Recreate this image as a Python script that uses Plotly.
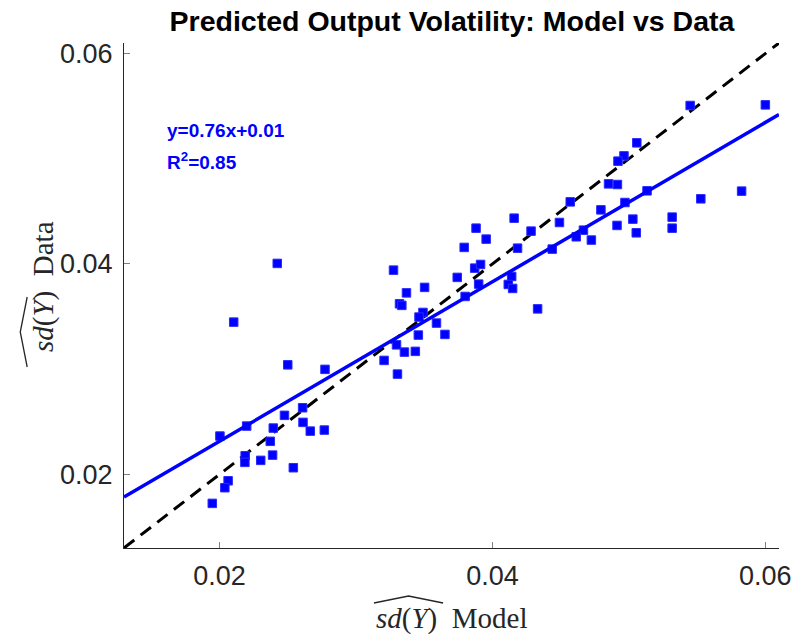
import plotly.graph_objects as go

# Model-predicted volatility (x) and data volatility (y)
model_sd = [
    0.02104, 0.02500, 0.02773, 0.02609, 0.02476, 0.02199, 0.02394, 0.02003, 0.02612, 0.02665,
    0.02768, 0.02372, 0.02188, 0.02186, 0.02302, 0.02389, 0.02541, 0.02063, 0.02039, 0.01947,
    0.02423,
    0.04159, 0.03880, 0.03954, 0.03793, 0.04184, 0.04283, 0.04438, 0.03275, 0.03870, 0.03913,
    0.03742, 0.03503, 0.03370, 0.03899, 0.04141, 0.04116, 0.04148, 0.03800, 0.03319, 0.03336,
    0.04331, 0.03491, 0.03462, 0.03590, 0.03457, 0.03652, 0.03297, 0.03355, 0.03435, 0.03206,
    0.03304,
    0.05449, 0.06000, 0.05058, 0.04964, 0.04920, 0.04851, 0.04916, 0.05133, 0.05826, 0.05527,
    0.04570, 0.04971, 0.04795, 0.04491, 0.05029, 0.05317, 0.05317, 0.04913, 0.05054, 0.04667,
    0.04614, 0.04725,
]
data_sd = [
    0.03447, 0.03041, 0.02998, 0.02633, 0.02561, 0.02459, 0.02440, 0.02364, 0.02494, 0.02411,
    0.02421, 0.02314, 0.02177, 0.02114, 0.02133, 0.02183, 0.02063, 0.01939, 0.01873, 0.01724,
    0.04005,
    0.04435, 0.04340, 0.04236, 0.04157, 0.04150, 0.04312, 0.04141, 0.03941, 0.03960, 0.03995,
    0.03872, 0.03777, 0.03725, 0.03808, 0.03881, 0.03805, 0.03767, 0.03691, 0.03621, 0.03606,
    0.03573, 0.03539, 0.03495, 0.03438, 0.03324, 0.03330, 0.03231, 0.03162, 0.03169, 0.03083,
    0.02953,
    0.05506, 0.05512, 0.05151, 0.05027, 0.04977, 0.04761, 0.04755, 0.04695, 0.04692, 0.04619,
    0.04590, 0.04584, 0.04514, 0.04394, 0.04426, 0.04445, 0.04340, 0.04366, 0.04296, 0.04321,
    0.04258, 0.04227,
]

fit_slope = 0.7575
fit_intercept = 0.0080
axis_range = [0.013, 0.061]
tick_vals = [0.02, 0.04, 0.06]
tick_text = ["0.02", "0.04", "0.06"]

fit_x = axis_range
fit_y = [fit_slope * v + fit_intercept for v in fit_x]

# plot-area geometry in pixels
W, H = 803, 639
L, R, T, B = 124, 16, 43, 91
PW, PH = W - L - R, H - T - B


def px(x):
    return (x - L) / PW


def py(y):
    return (H - B - y) / PH


fig = go.Figure()
fig.add_trace(go.Scatter(
    x=axis_range, y=axis_range, mode="lines",
    line=dict(color="black", width=3, dash="13px,8px"), hoverinfo="skip",
))
fig.add_trace(go.Scatter(
    x=model_sd, y=data_sd, mode="markers",
    marker=dict(symbol="square", size=8.5, color="#0000ff",
                line=dict(color="#2a2aff", width=1)),
))
fig.add_trace(go.Scatter(
    x=fit_x, y=fit_y, mode="lines",
    line=dict(color="#0000ff", width=3.5), hoverinfo="skip",
))

axis_common = dict(
    range=axis_range, tickvals=tick_vals, ticktext=tick_text,
    ticks="inside", ticklen=6, tickcolor="#808080", tickwidth=1,
    showline=True, linecolor="#262626", linewidth=1, showgrid=False,
    zeroline=False, tickfont=dict(family="Liberation Sans", size=27, color="#262626"),
)

fig.update_layout(
    width=W, height=H,
    margin=dict(l=L, r=R, t=T, b=B),
    plot_bgcolor="white", paper_bgcolor="white",
    showlegend=False,
    xaxis=dict(**axis_common, ticklabelstandoff=4),
    yaxis=dict(**axis_common, ticklabelstandoff=5),
    title=dict(
        text="<b>Predicted Output Volatility: Model vs Data</b>",
        xref="paper", x=px(456), xanchor="center",
        yref="container", y=1 - 21 / H, yanchor="middle",
        font=dict(family="Liberation Sans", size=28.5, color="black"),
    ),
)

fig.add_annotation(
    text="<i>sd</i>(<i>Y</i>)  Model", xref="paper", yref="paper",
    x=px(456), y=py(618), xanchor="center", yanchor="middle", showarrow=False,
    font=dict(family="Liberation Serif", size=29, color="#262626"),
)
fig.add_annotation(
    text="<i>sd</i>(<i>Y</i>)  Data", xref="paper", yref="paper",
    x=px(42), y=py(286), xanchor="center", yanchor="middle", showarrow=False,
    textangle=-90,
    font=dict(family="Liberation Serif", size=29, color="#262626"),
)
# wide hats over sd(Y)
fig.add_shape(
    type="path", xref="paper", yref="paper",
    path=f"M {px(377)} {py(603)} L {px(412)} {py(596)} L {px(447)} {py(603)}",
    line=dict(color="#262626", width=1.3),
)
fig.add_shape(
    type="path", xref="paper", yref="paper",
    path=f"M {px(26)} {py(367)} L {px(19)} {py(332)} L {px(26)} {py(297)}",
    line=dict(color="#262626", width=1.3),
)

fig.add_annotation(
    text="<b>y=0.76x+0.01</b>", xref="paper", yref="paper",
    x=px(165), y=py(130), xanchor="left", yanchor="middle", showarrow=False,
    font=dict(family="Liberation Sans", size=19, color="#0000ff"),
)
fig.add_annotation(
    text="<b>R<sup>2</sup>=0.85</b>", xref="paper", yref="paper",
    x=px(165), y=py(161), xanchor="left", yanchor="middle", showarrow=False,
    font=dict(family="Liberation Sans", size=19, color="#0000ff"),
)

fig.write_html("out.html")
